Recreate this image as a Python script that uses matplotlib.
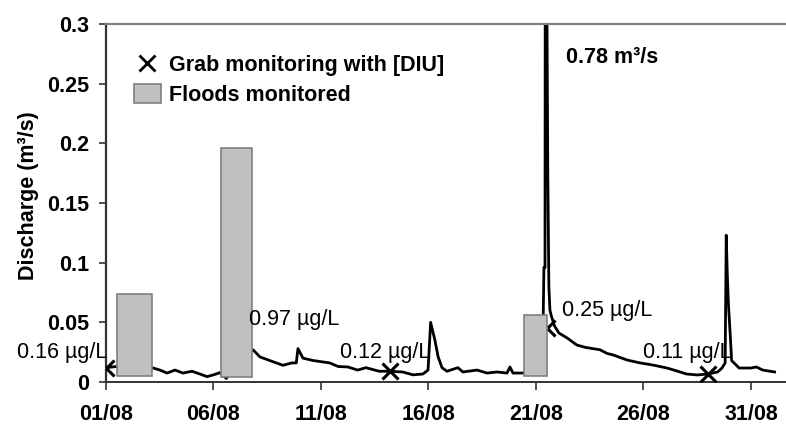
import matplotlib
matplotlib.use('Agg')
import matplotlib.pyplot as plt
from matplotlib.lines import Line2D
from matplotlib.patches import Patch

plt.rcParams['font.family'] = ['Liberation Sans', 'DejaVu Sans']

# jours depuis le 01/08 00:00
days = [0.0, 0.5, 1.2, 1.8, 2.14, 2.51, 2.84, 3.21, 3.58, 4.0, 4.37, 4.7, 5.0, 5.3,
        5.6, 6.2, 6.84, 7.16, 7.77, 8.23, 8.65, 8.85, 8.93, 9.16, 9.63, 10.4,
        10.8, 11.25, 11.7, 12.1, 12.7, 13.2, 13.8, 14.28, 14.74, 14.98, 15.1,
        15.3, 15.45, 15.63, 15.86, 16.37, 16.6, 17.26, 17.72, 18.19, 18.65,
        18.79, 18.93, 19.4, 20.0, 20.3, 20.37, 20.42, 20.45, 20.5, 20.55, 20.6,
        20.65, 20.72, 20.86, 21.07, 21.44, 21.9, 22.3, 22.98, 23.3, 23.6, 24.24,
        24.84, 25.44, 26.1, 26.6, 27.0, 27.5, 28.0, 28.45, 28.65, 28.8, 28.85,
        28.9, 28.95, 29.05, 29.1, 29.45, 30.0, 30.25, 30.55, 31.1]
discharge = [0.012, 0.013, 0.012, 0.013, 0.012, 0.010, 0.0075, 0.010, 0.0075, 0.009,
             0.0067, 0.0045, 0.006, 0.0078, 0.003, 0.02, 0.027, 0.021, 0.017, 0.014,
             0.016, 0.016, 0.028, 0.020, 0.018, 0.016, 0.013, 0.0126, 0.010, 0.012,
             0.009, 0.009, 0.0084, 0.006, 0.0067, 0.010, 0.050, 0.035, 0.021, 0.012,
             0.009, 0.012, 0.0084, 0.010, 0.0075, 0.0084, 0.0075, 0.0126, 0.0075,
             0.0075, 0.0075, 0.010, 0.096, 0.096, 0.78, 0.35, 0.175, 0.08, 0.06,
             0.055, 0.047, 0.041, 0.037, 0.031, 0.029, 0.027, 0.024, 0.0226, 0.0184,
             0.016, 0.0142, 0.0117, 0.009, 0.0067, 0.0059, 0.0067, 0.0084, 0.0117,
             0.016, 0.123, 0.09, 0.066, 0.035, 0.018, 0.0117, 0.0117, 0.0126, 0.010,
             0.0084]

# prélèvements ponctuels (DIU)
grab_days = [0.0, 6.3, 13.2, 20.5, 28.0]
grab_q = [0.012, 0.02, 0.009, 0.045, 0.0067]
grab_labels = ['0.16 µg/L', '0.97 µg/L', '0.12 µg/L', '0.25 µg/L', '0.11 µg/L']

# crues suivies
flood_start = [0.51, 5.35, 19.44]
flood_end = [2.14, 6.79, 20.51]
flood_top = [0.0737, 0.196, 0.056]
flood_base = [0.005, 0.004, 0.005]

tick_days = [0, 5, 10, 15, 20, 25, 30]
tick_labels = ['01/08', '06/08', '11/08', '16/08', '21/08', '26/08', '31/08']
ytick_vals = [0, 0.05, 0.1, 0.15, 0.2, 0.25, 0.3]
ytick_labels = ['0', '0.05', '0.1', '0.15', '0.2', '0.25', '0.3']

FS = 15.5

fig = plt.figure(figsize=(7.86, 4.26), dpi=100)
ax = fig.add_axes([106 / 786, 44 / 426, 680 / 786, 358 / 426])

ax.plot(days, discharge, color='black', lw=2.0, zorder=2)
ax.plot(grab_days, grab_q, linestyle='none', marker='x', color='black',
        markersize=12, mew=2.2, zorder=3)
heights = [t - b for t, b in zip(flood_top, flood_base)]
widths = [e - s for s, e in zip(flood_start, flood_end)]
ax.bar(flood_start, heights, width=widths, bottom=flood_base, align='edge',
       color='#c0c0c0', edgecolor='#808080', linewidth=1.2, zorder=4)

# étiquettes de concentration
label_pos = [(0.05, 0.025, 'right'), (6.65, 0.052, 'left'), (10.88, 0.025, 'left'),
             (21.2, 0.0595, 'left'), (24.97, 0.025, 'left')]
for (lx, ly, ha), txt in zip(label_pos, grab_labels):
    ax.text(lx, ly, txt, ha=ha, va='center', fontsize=FS, zorder=5)

peak = max(discharge)
ax.text(21.4, 0.272, f'{peak:.2f} m³/s', fontsize=FS, fontweight='bold',
        va='center', ha='left')

ax.set_xlim(0, 31.63)
ax.set_ylim(0, 0.3)
ax.set_xticks(tick_days)
ax.set_xticklabels(tick_labels, fontsize=FS, fontweight='bold')
ax.set_yticks(ytick_vals)
ax.set_yticklabels(ytick_labels, fontsize=FS, fontweight='bold')
ax.tick_params(axis='y', length=5, width=1.2, color='#333333', pad=7)
ax.tick_params(axis='x', length=6, width=1.2, color='#333333', pad=10)

ax.set_ylabel('Discharge (m³/s)', fontsize=FS, fontweight='bold')
ax.yaxis.set_label_coords(-0.099, 0.52)

ax.spines['right'].set_visible(False)
ax.spines['top'].set_color('#808080')
ax.spines['top'].set_linewidth(1.6)
ax.spines['left'].set_color('#333333')
ax.spines['left'].set_linewidth(1.6)
ax.spines['bottom'].set_color('#333333')
ax.spines['bottom'].set_linewidth(1.4)

handles = [
    Line2D([], [], linestyle='none', marker='x', color='black', markersize=11, mew=2),
    Patch(facecolor='#c0c0c0', edgecolor='#808080', linewidth=1.2),
]
ax.legend(handles, ['Grab monitoring with [DIU]', 'Floods monitored'],
          loc='upper left', bbox_to_anchor=(0.041, 0.916), frameon=False,
          borderpad=0, borderaxespad=0, handlelength=1.25, handleheight=0.98,
          handletextpad=0.37, labelspacing=0.37,
          prop={'size': FS, 'weight': 'bold'})

fig.savefig('out.png', dpi=100)
